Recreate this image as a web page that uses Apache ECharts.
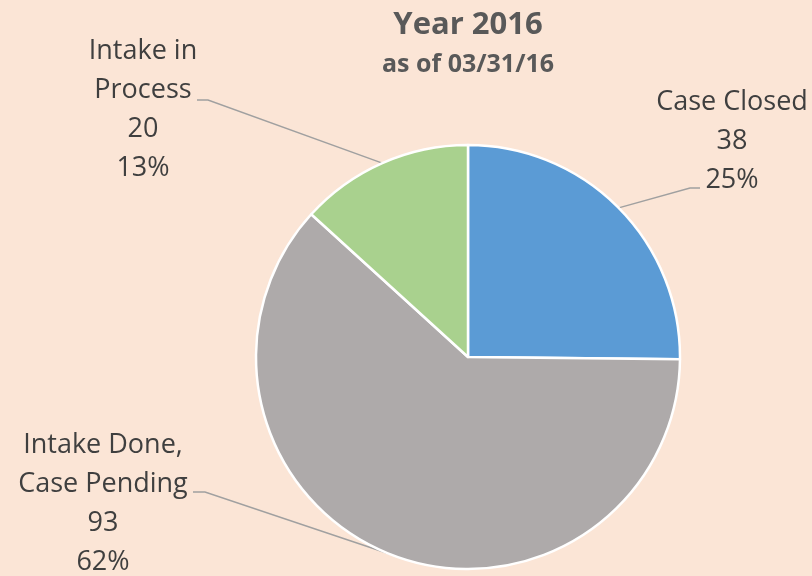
<html>

<head>
    <script src="https://cdn.jsdelivr.net/npm/echarts@6.0.0/dist/echarts.min.js"></script>

    <style>
        body {
            margin: 0;
            background: #FBE5D6;
        }
        #chart {
            width: 812px;
            height: 576px;
        }
    </style>
</head>

<body>
    <div id="chart"></div>

    <script>
        // data
        const categories = ['Case Closed', 'Intake Done,\nCase Pending', 'Intake in\nProcess'];
        const counts = [38, 93, 20];
        const colors = ['#5B9BD5', '#AEAAAA', '#A9D18E'];
        const titleText = 'Year 2016';
        const subtitleText = 'as of 03/31/16';

        // where each label block sits, and the elbow/end of its leader line
        const labelSpots = [
            { x: 732, y: 141, bend: [690, 188], end: [700, 188] },
            { x: 103, y: 504, bend: [205, 492], end: [193, 492] },
            { x: 143, y: 110, bend: [208, 100], end: [197, 100] }
        ];

        const chartDom = document.getElementById('chart');
        const myChart = echarts.init(chartDom);

        // titles are centred over the pie (x=468), not the page, so use graphic text
        const option = {
            backgroundColor: '#FBE5D6',
            animation: false,
            graphic: [
                {
                    type: 'text',
                    x: 468,
                    y: 25,
                    style: {
                        text: titleText,
                        align: 'center',
                        verticalAlign: 'middle',
                        fontFamily: 'Open Sans',
                        fontSize: 31,
                        fontWeight: 'bold',
                        fill: '#595959'
                    }
                },
                {
                    type: 'text',
                    x: 468,
                    y: 65,
                    style: {
                        text: subtitleText,
                        align: 'center',
                        verticalAlign: 'middle',
                        fontFamily: 'Open Sans',
                        fontSize: 25,
                        fontWeight: 'bold',
                        fill: '#595959'
                    }
                }
            ],
            series: {
                type: 'pie',
                center: [468, 357],
                radius: [0, 212],
                startAngle: 90,
                clockwise: true,
                percentPrecision: 0,
                itemStyle: {
                    borderColor: '#FFFFFF',
                    borderWidth: 2.5
                },
                label: {
                    show: true,
                    position: 'outside',
                    formatter: '{b}\n{c}\n{d}%',
                    fontFamily: 'Open Sans',
                    fontSize: 27,
                    lineHeight: 39,
                    color: '#3F3F3F',
                    align: 'center'
                },
                labelLine: {
                    show: true,
                    length: 20,
                    length2: 10,
                    lineStyle: {
                        color: '#A0A0A0',
                        width: 1.5
                    }
                },
                labelLayout: (params) => {
                    const spot = labelSpots[params.dataIndex];
                    const pts = params.labelLinePoints;
                    const start = pts && pts.length ? pts[0] : spot.bend;
                    return {
                        x: spot.x,
                        y: spot.y,
                        align: 'center',
                        verticalAlign: 'middle',
                        labelLinePoints: [start, spot.bend, spot.end]
                    };
                },
                emphasis: { disabled: true },
                data: categories.map((name, i) => ({
                    name: name,
                    value: counts[i],
                    itemStyle: { color: colors[i] }
                }))
            }
        };

        myChart.setOption(option);
    </script>
</body>

</html>
